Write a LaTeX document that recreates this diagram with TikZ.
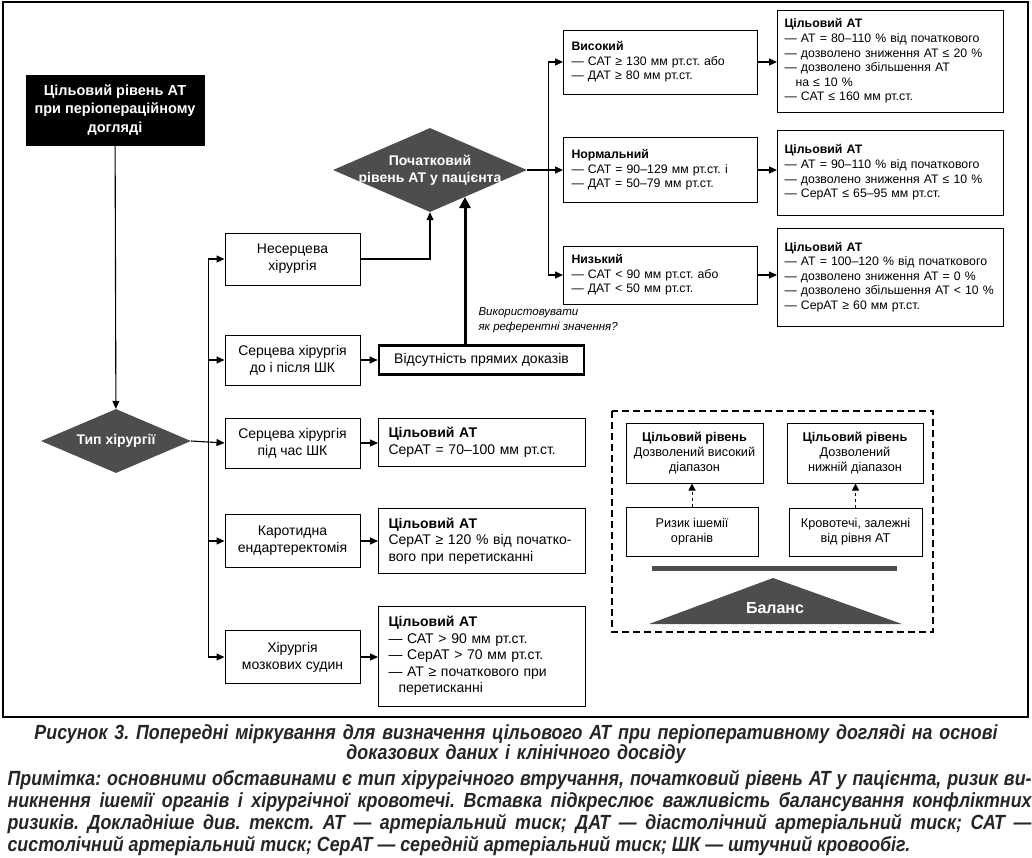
\documentclass[tikz,border=0pt]{standalone}
\usepackage{fontspec}
\setmainfont{Liberation Sans}
\newfontfamily\capfont[FakeStretch=0.87]{Liberation Sans}
\usepackage{tikz}
\usetikzlibrary{calc, shapes.geometric, arrows.meta, positioning}
\definecolor{darkfill}{HTML}{4D4D4D}
\frenchspacing

\begin{document}
\begin{tikzpicture}[
        x=1pt, y=-1pt,
        box/.style = {draw, rectangle, line width=1pt, align=center, inner sep=2pt, font=\fontsize{14}{17}\selectfont},
        listbox/.style = {draw, rectangle, line width=1pt, anchor=west, align=left, inner xsep=10pt, inner ysep=2pt, font=\fontsize{14}{16.5}\selectfont},
        smallbox/.style = {listbox, inner xsep=7pt, font=\fontsize{12.3}{14.6}\selectfont},
        riskbox/.style = {box, font=\fontsize{12.7}{15}\selectfont},
        decision/.style = {diamond, fill=darkfill, inner sep=0pt},
        decisiontext/.style = {align=center, text=white, font=\fontsize{14}{17}\selectfont\bfseries},
        arrow/.style = {line width=1.1pt, -{Triangle[length=8pt, width=7pt]}},
        bigarrow/.style = {line width=3pt, -{Triangle[length=11pt, width=11pt]}},
        riskarrow/.style = {line width=1pt, dashed, -{Triangle[length=7pt, width=7pt]}},
        captext/.style = {font=\capfont\fontsize{20.5}{20}\selectfont\bfseries\itshape, text=black!85}
    ]
        \useasboundingbox (0,0) rectangle (1032,857);
        \draw [line width=1.3pt] (3,2) rectangle (1028,717);

        % Start
        \node (goal) [box, fill=black, text=white, font=\fontsize{14.5}{18.5}\selectfont\bfseries, minimum width=178pt, minimum height=70pt] at (115,110) {Цільовий рівень АТ\\при періопераційному\\догляді};
        \node (type) [decision, minimum width=150pt, minimum height=64pt, label={[decisiontext]center:Тип хірургії}] at (116,441) {};

        % Surgery types
        \node (nonc)   [box, minimum width=135pt, minimum height=52pt] at (292.5,259) {Несерцева\\хірургія};
        \node (cardio) [box, minimum width=135pt, minimum height=50pt] at (292.5,360) {Серцева хірургія\\до і після ШК};
        \node (cpb)    [box, minimum width=135pt, minimum height=50pt] at (292.5,443) {Серцева хірургія\\під час ШК};
        \node (carot)  [box, minimum width=135pt, minimum height=53pt] at (292.5,541) {Каротидна\\ендартеректомія};
        \node (cereb)  [box, minimum width=135pt, minimum height=53pt] at (292.5,657) {Хірургія\\мозкових судин};

        % Targets by surgery
        \node (absent) [box, line width=2.6pt, minimum width=205pt, minimum height=29pt] at (481.5,360) {Відсутність прямих доказів};
        \node (tcpb)   [listbox, text width=187pt, minimum height=48pt] at (378,442) {\textbf{Цільовий АТ}\\СерАТ = 70–100 мм рт.ст.};
        \node (tcarot) [listbox, text width=187pt, minimum height=65pt] at (378,541) {\textbf{Цільовий АТ}\\СерАТ ≥ 120 \% від початко-\\вого при перетисканні};
        \node (tcereb) [listbox, text width=187pt, minimum height=100pt] at (378,656) {\textbf{Цільовий АТ}\\— САТ > 90 мм рт.ст.\\— СерАТ > 70 мм рт.ст.\\— АТ ≥ початкового при\\\hspace*{10pt}перетисканні};

        % Baseline BP
        \node (init) [decision, minimum width=194pt, minimum height=84pt, label={[decisiontext]center:Початковий\\рівень АТ у пацієнта}] at (430,170) {};
        \node (high) [smallbox, inner xsep=8pt, text width=178pt, minimum height=64pt] at (563,62) {\textbf{Високий}\\— САТ ≥ 130 мм рт.ст. або\\— ДАТ ≥ 80 мм рт.ст.};
        \node (norm) [smallbox, inner xsep=8pt, text width=178pt, minimum height=65pt] at (563,170) {\textbf{Нормальний}\\— САТ = 90–129 мм рт.ст. і\\— ДАТ = 50–79 мм рт.ст.};
        \node (low)  [smallbox, inner xsep=8pt, text width=178pt, minimum height=58pt] at (563,275) {\textbf{Низький}\\— САТ < 90 мм рт.ст. або\\— ДАТ < 50 мм рт.ст.};

        \node (thigh) [smallbox, text width=212pt, minimum height=102pt] at (777,61) {\textbf{Цільовий АТ}\\— АТ = 80–110 \% від початкового\\— дозволено зниження АТ ≤ 20 \%\\— дозволено збільшення АТ\\\hspace*{11pt}на ≤ 10 \%\\— САТ ≤ 160 мм рт.ст.};
        \node (tnorm) [smallbox, text width=212pt, minimum height=85pt] at (777,172.5) {\textbf{Цільовий АТ}\\— АТ = 90–110 \% від початкового\\— дозволено зниження АТ ≤ 10 \%\\— СерАТ ≤ 65–95 мм рт.ст.};
        \node (tlow)  [smallbox, text width=212pt, minimum height=98pt] at (777,277) {\textbf{Цільовий АТ}\\— АТ = 100–120 \% від початкового\\— дозволено зниження АТ = 0 \%\\— дозволено збільшення АТ < 10 \%\\— СерАТ ≥ 60 мм рт.ст.};

        % Arrows
        \draw [arrow] (goal) -- (type);
        \coordinate (sp1) at ($(type.east)+(17,0)$);
        \draw [arrow] (type.east) -- (cpb.west);
        \draw [arrow] (sp1) |- (nonc.west);
        \draw [arrow] (sp1) |- (cardio.west);
        \draw [arrow] (sp1) |- (carot.west);
        \draw [arrow] (sp1) |- (cereb.west);

        \draw [arrow] (nonc.east) -| (init.south);
        \draw [arrow] (cardio.east) -- (absent.west);
        \draw [arrow] (cpb.east) -- (cpb.east -| tcpb.west);
        \draw [arrow] (carot.east) -- (carot.east -| tcarot.west);
        \draw [arrow] (cereb.east) -- (cereb.east -| tcereb.west);

        \coordinate (ref) at ($(init.south)!0.36!(init.east)$);
        \draw [bigarrow] (absent.north -| ref) -- (ref);
        \node (refnote) [anchor=west, align=left, font=\fontsize{11.5}{15}\selectfont\itshape] at (475,320) {Використовувати\\як референтні значення?};

        \coordinate (sp2) at ($(init.east)+(21,0)$);
        \draw [arrow] (init.east) -- (init.east -| norm.west);
        \draw [arrow] (sp2) |- (high.west);
        \draw [arrow] (sp2) |- (low.west);
        \draw [arrow] (high.east) -- (high.east -| thigh.west);
        \draw [arrow] (norm.east) -- (norm.east -| tnorm.west);
        \draw [arrow] (low.east) -- (low.east -| tlow.west);

        % Balance inset
        \draw [line width=1.6pt, dash pattern=on 7pt off 4pt] (612,411) rectangle (933,632);
        \node (hi)    [riskbox, minimum width=137pt, minimum height=60pt] at (694.5,453) {\textbf{Цільовий рівень}\\Дозволений високий\\діапазон};
        \node (lo)    [riskbox, minimum width=136pt, minimum height=60pt] at (855,453) {\textbf{Цільовий рівень}\\Дозволений\\нижній діапазон};
        \node (isch)  [riskbox, minimum width=132pt, minimum height=49pt] at (692,531.5) {Ризик ішемії\\органів};
        \node (bleed) [riskbox, minimum width=133pt, minimum height=48pt] at (855.5,532) {Кровотечі, залежні\\від рівня АТ};
        \draw [riskarrow] (isch.north) -- (isch.north |- hi.south);
        \draw [riskarrow] (bleed.north) -- (bleed.north |- lo.south);
        \fill [darkfill] (652,566) rectangle (897,571);
        \fill [darkfill] (649,624) -- (773,578) -- (902,624) -- cycle;
        \node (bal) [text=white, font=\fontsize{16}{18}\selectfont\bfseries] at (775,608) {Баланс};

        % Caption
        \node (cap) [captext, anchor=north, text width=1020pt, align=center] at (516,721) {Рисунок 3. Попередні міркування для визначення цільового АТ при періоперативному догляді на основі\\доказових даних і клінічного досвіду};
        \node (note) [captext, anchor=north west, text width=1024pt, align=justify, font=\capfont\fontsize{20.5}{22}\selectfont\bfseries\itshape] at (4,767) {Примітка: основними обставинами є тип хірургічного втручання, початковий рівень АТ у пацієнта, ризик ви-\linebreak никнення ішемії органів і хірургічної кровотечі. Вставка підкреслює важливість балансування конфліктних\linebreak ризиків. Докладніше див. текст. АТ — артеріальний тиск; ДАТ — діастолічний артеріальний тиск; САТ —\linebreak систолічний артеріальний тиск; СерАТ — середній артеріальний тиск; ШК — штучний кровообіг.};

    \end{tikzpicture}
\end{document}
